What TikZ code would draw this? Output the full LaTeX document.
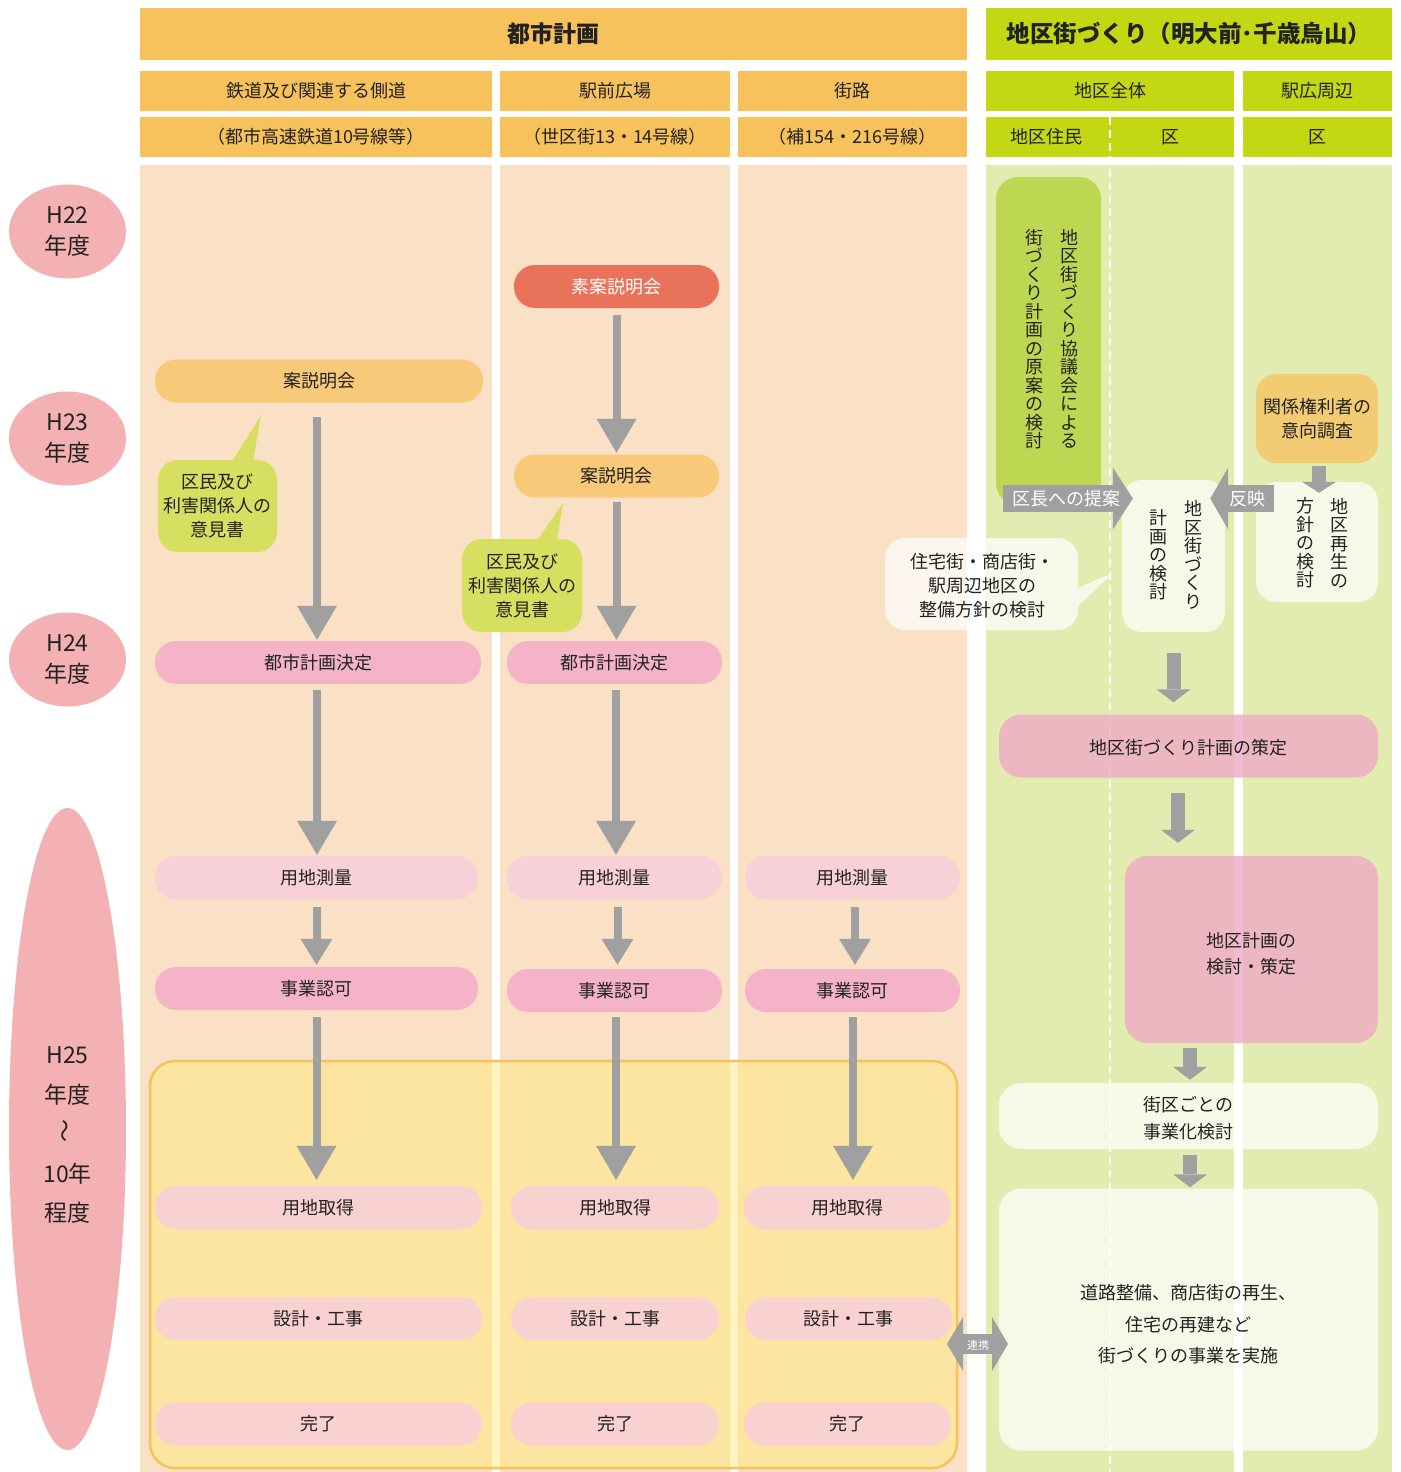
\documentclass[tikz,border=0pt]{standalone}
\usepackage{fontspec}
\setmainfont{Noto Sans CJK JP}
\usetikzlibrary{arrows.meta,shapes.geometric}
\definecolor{hdr}{HTML}{F7C15C}
\definecolor{lime}{HTML}{C3D812}
\definecolor{beige}{HTML}{FAE0C4}
\definecolor{greenbg}{HTML}{E2EBB0}
\definecolor{orpill}{HTML}{F9C97A}
\definecolor{redpill}{HTML}{E8735A}
\definecolor{pinkA}{HTML}{F4B3C7}
\definecolor{pinkL}{HTML}{F8D0D8}
\definecolor{pinkY}{HTML}{F9D1D0}
\definecolor{limecall}{HTML}{D6DF5F}
\definecolor{greenbox}{HTML}{BED752}
\definecolor{orbox}{HTML}{F3CB72}
\definecolor{yearpink}{HTML}{F3B1B3}
\definecolor{agray}{HTML}{A0A0A0}
\definecolor{ylw}{RGB}{255,232,128}
\definecolor{pinkR}{RGB}{240,171,199}
\definecolor{txt}{HTML}{222222}
\newcommand{\fsz}[2]{\fontsize{#1}{#2}\selectfont}
\begin{document}
\begin{tikzpicture}[x=1pt,y=-1pt,
  every node/.style={inner sep=0pt, text=txt},
  cell/.style={minimum height=40pt, font=\fsz{18}{22}},
  pill/.style={rounded corners=21pt, minimum height=43pt, font=\fsz{18}{22}},
  rbox/.style={rounded corners=20pt, align=center, font=\fsz{18}{24}},
  vtxt/.style={align=center, font=\fsz{18}{18.5}},
  yearnode/.style={ellipse, fill=yearpink, minimum width=117pt, align=center, font=\fsz{23}{31}},
  garrow/.style={draw=agray, line width=8pt, -{Triangle[width=40pt,length=34pt,line width=0pt]}},
  sgarrow/.style={draw=agray, line width=8pt, -{Triangle[width=32pt,length=26pt,line width=0pt]}},
  fatarrow/.style={draw=agray, line width=14pt, -{Triangle[width=34pt,length=13pt,line width=0pt]}},
  blockarrow/.style={draw=agray, line width=27pt, -{Triangle[width=62pt,length=20pt,line width=0pt]}},
  soft/.style={fill=white, fill opacity=0.7, text opacity=1},
  pinksoft/.style={fill=pinkR, fill opacity=0.8, text opacity=1},
  wtxt/.style={text=white, font=\fsz{18}{22}}
]
\useasboundingbox (0,0) rectangle (1400,1472);
\fill[white] (0,0) rectangle (1400,1472);

% column backgrounds
\fill[beige] (140,165) rectangle (492,1472);
\fill[beige] (500,165) rectangle (730,1472);
\fill[beige] (738,165) rectangle (967,1472);
\fill[greenbg] (986,165) rectangle (1234,1472);
\fill[greenbg] (1243,165) rectangle (1392,1472);

% headers
\node[fill=hdr, minimum width=827pt, minimum height=52pt, font=\fsz{23}{26}\bfseries] (h1) at (553.5,34) {都市計画};
\node[fill=lime, minimum width=406pt, minimum height=52pt, font=\fsz{23.5}{26}\bfseries] (h2) at (1189,34) {地区街づくり（明大前･千歳烏山）};
\node[cell, fill=hdr, minimum width=352pt] (h11) at (316,91) {鉄道及び関連する側道};
\node[cell, fill=hdr, minimum width=230pt] (h12) at (615,91) {駅前広場};
\node[cell, fill=hdr, minimum width=229pt] (h13) at (852.5,91) {街路};
\node[cell, fill=lime, minimum width=248pt] (h14) at (1110,91) {地区全体};
\node[cell, fill=lime, minimum width=149pt] (h15) at (1317.5,91) {駅広周辺};
\node[cell, fill=hdr, minimum width=352pt] (h21) at (316,137) {（都市高速鉄道10号線等）};
\node[cell, fill=hdr, minimum width=230pt] (h22) at (615,137) {（世区街13・14号線）};
\node[cell, fill=hdr, minimum width=229pt] (h23) at (852.5,137) {（補154・216号線）};
\fill[lime] (986,117) rectangle (1234,157);
\node[font=\fsz{18}{22}] (h24a) at (1046,137) {地区住民};
\node[font=\fsz{18}{22}] (h24b) at (1170,137) {区};
\node[cell, fill=lime, minimum width=149pt] (h25) at (1317.5,137) {区};

% dashed divider
\draw[white, line width=2.5pt, dash pattern=on 8pt off 5pt] (1110,117) -- (1110,1472);

% yellow box
\draw[draw=hdr, line width=2.5pt, fill=ylw, fill opacity=0.5, rounded corners=25pt] (150,1061) rectangle (957,1468);

% years
\node[yearnode, minimum height=94pt] (y22) at (67.5,231.5) {H22\\年度};
\node[yearnode, minimum height=94pt] (y23) at (67.5,438.5) {H23\\年度};
\node[yearnode, minimum height=94pt] (y24) at (67.5,659.5) {H24\\年度};
\node[yearnode, minimum height=642pt] (y25) at (67.5,1129) {};
\node[align=center, font=\fsz{23}{39.5}] (y25t) at (67.5,1135) {H25\\年度\\\rotatebox{90}{～}\\10年\\程度};

% column 1
\node[pill, fill=orpill, minimum width=328pt] (a1) at (319,381) {案説明会};
\node[pill, fill=pinkA, minimum width=326pt] (a2) at (318,662.5) {都市計画決定};
\node[pill, fill=pinkL, minimum width=323pt] (a3) at (316.5,877.5) {用地測量};
\node[pill, fill=pinkA, minimum width=323pt] (a4) at (316.5,988.5) {事業認可};
\node[pill, fill=pinkY, minimum width=327pt] (a5) at (318.5,1207.5) {用地取得};
\node[pill, fill=pinkY, minimum width=327pt] (a6) at (318.5,1318.5) {設計・工事};
\node[pill, fill=pinkY, minimum width=327pt] (a7) at (318.5,1424) {完了};

% column 2
\node[pill, fill=redpill, minimum width=205pt, text=white] (b0) at (616.5,286.5) {素案説明会};
\node[pill, fill=orpill, minimum width=205pt] (b1) at (616.5,476) {案説明会};
\node[pill, fill=pinkA, minimum width=215pt] (b2) at (614.5,662.5) {都市計画決定};
\node[pill, fill=pinkL, minimum width=215pt] (b3) at (614.5,877.5) {用地測量};
\node[pill, fill=pinkA, minimum width=215pt] (b4) at (614.5,990.5) {事業認可};
\node[pill, fill=pinkY, minimum width=208pt] (b5) at (615,1207.5) {用地取得};
\node[pill, fill=pinkY, minimum width=208pt] (b6) at (615,1318.5) {設計・工事};
\node[pill, fill=pinkY, minimum width=208pt] (b7) at (615,1424) {完了};

% column 3
\node[pill, fill=pinkL, minimum width=215pt] (c3) at (852.5,877.5) {用地測量};
\node[pill, fill=pinkA, minimum width=215pt] (c4) at (852.5,990.5) {事業認可};
\node[pill, fill=pinkY, minimum width=207pt] (c5) at (847.5,1207.5) {用地取得};
\node[pill, fill=pinkY, minimum width=207pt] (c6) at (848.5,1318.5) {設計・工事};
\node[pill, fill=pinkY, minimum width=207pt] (c7) at (847.5,1424) {完了};

% column arrows
\draw[garrow, shorten <=14.5pt, shorten >=1pt] ([xshift=-2pt]a1.south) -- ([xshift=-2pt]a1.south |- a2.north);
\draw[garrow, shorten <=6pt, shorten >=1pt] ([xshift=-1pt]a2.south) -- ([xshift=-1pt]a2.south |- a3.north);
\draw[sgarrow, shorten <=8pt, shorten >=2pt] (a3.south) -- (a3.south |- a4.north);
\draw[garrow, shorten <=7pt, shorten >=6pt] (a4.south) -- (a4.south |- a5.north);

\draw[garrow, shorten <=7pt, shorten >=1.5pt] (b0.south) -- (b0.south |- b1.north);
\draw[garrow, shorten <=4.5pt, shorten >=1pt] (b1.south) -- (b1.south |- b2.north);
\draw[garrow, shorten <=6pt, shorten >=1pt] ([xshift=1.5pt]b2.south) -- ([xshift=1.5pt]b2.south |- b3.north);
\draw[sgarrow, shorten <=8pt, shorten >=4pt] ([xshift=3pt]b3.south) -- ([xshift=3pt]b3.south |- b4.north);
\draw[garrow, shorten <=5pt, shorten >=6pt] ([xshift=1.5pt]b4.south) -- ([xshift=1.5pt]b4.south |- b5.north);

\draw[sgarrow, shorten <=8pt, shorten >=4pt] ([xshift=2.5pt]c3.south) -- ([xshift=2.5pt]c3.south |- c4.north);
\draw[garrow, shorten <=5pt, shorten >=6pt] ([xshift=0.5pt]c4.south) -- ([xshift=0.5pt]c4.south |- c5.north);

% callouts (left)
\fill[limecall] (232,462) -- (261,415) -- (253,462) -- cycle;
\node[rbox, fill=limecall, minimum width=119pt, minimum height=92pt] (k1) at (217.5,506) {区民及び\\利害関係人の\\意見書};
\fill[limecall] (537,541) -- (563,503) -- (557,541) -- cycle;
\node[rbox, fill=limecall, minimum width=120pt, minimum height=93pt] (k2) at (522,585.5) {区民及び\\利害関係人の\\意見書};

% right side
\node[fill=greenbox, rounded corners=22pt, minimum width=105pt, minimum height=328pt] (gbox) at (1048.5,341) {};
\node[vtxt] (gt1) at (1069,339) {地\\区\\街\\づ\\く\\り\\協\\議\\会\\に\\よ\\る};
\node[vtxt] (gt2) at (1034,339) {街\\づ\\く\\り\\計\\画\\の\\原\\案\\の\\検\\討};

\node[soft, rounded corners=20pt, minimum width=103pt, minimum height=152pt] (kb) at (1173.5,556) {};
\node[vtxt] (kbt1) at (1193,555) {地\\区\\街\\づ\\く\\り};
\node[vtxt] (kbt2) at (1158,555) {計\\画\\の\\検\\討};

\node[rbox, fill=orbox, minimum width=122pt, minimum height=89pt] (kk) at (1317,418.5) {関係権利者の\\意向調査};
\node[soft, rounded corners=20pt, minimum width=122pt, minimum height=120pt] (ks) at (1317,542) {};
\node[vtxt] (kst1) at (1339,543) {地\\区\\再\\生\\の};
\node[vtxt] (kst2) at (1305,543) {方\\針\\の\\検\\討};
\draw[fatarrow, -{Triangle[width=34pt,length=11pt,line width=0pt]}, shorten <=3pt, shorten >=-11pt] ([xshift=2pt]kk.south) -- ([xshift=2pt]kk.south |- ks.north);

% block arrows
\coordinate (tpS) at (1003,498.5);
\draw[blockarrow, shorten >=-11pt] (tpS) -- (kb.west |- tpS);
\node[wtxt] (tp) at (1066,498.5) {区長への提案};
\coordinate (hnS) at (1274,498.5);
\draw[blockarrow, -{Triangle[width=62pt,length=18pt,line width=0pt]}, shorten >=-15pt] (hnS) -- (kb.east |- hnS);
\node[wtxt] (hn) at (1247,498.5) {反映};

% callout 3
\fill[white, fill opacity=0.72] (1078,588) -- (1113,573) -- (1078,606) -- cycle;
\node[rbox, fill=white, fill opacity=0.72, text opacity=1, minimum width=193pt, minimum height=92pt] (jk) at (981.5,584) {};
\node[align=center, font=\fsz{18}{24}] (jkt) at (982,586) {住宅街・商店街・\\駅周辺地区の\\整備方針の検討};

% lower right flow
\node[pinksoft, rounded corners=22pt, minimum width=379pt, minimum height=63pt, font=\fsz{18}{22}] (sak) at (1188.5,746) {};
\node[font=\fsz{18}{22}] (sakt) at (1188.5,748) {地区街づくり計画の策定};
\node[pinksoft, rounded corners=22pt, minimum width=253pt, minimum height=187pt] (dk) at (1251.5,949.5) {};
\node[align=center, font=\fsz{18}{26}] (dkt) at (1251.5,953.5) {地区計画の\\検討・策定};
\node[soft, rounded corners=22pt, minimum width=379pt, minimum height=66pt] (gk) at (1188.5,1116) {};
\node[align=center, font=\fsz{18}{27}] (gkt) at (1188.5,1118) {街区ごとの\\事業化検討};
\node[soft, rounded corners=22pt, minimum width=379pt, minimum height=262pt] (jj) at (1188.5,1319.5) {};
\node[align=center, font=\fsz{18}{31.5}] (jjt) at (1188.5,1324.5) {道路整備、商店街の再生、\\住宅の再建など\\街づくりの事業を実施};

\draw[fatarrow, shorten <=21pt, shorten >=12pt] (kb.south) -- (kb.south |- sak.north);
\draw[fatarrow, shorten <=15pt, shorten >=13pt] ([xshift=-10.5pt]sak.south) -- ([xshift=-10.5pt]sak.south |- dk.north);
\draw[fatarrow, shorten <=5pt, shorten >=3pt] ([xshift=-61.5pt]dk.south) -- ([xshift=-61.5pt]dk.south |- gk.north);
\draw[fatarrow, shorten <=6pt, shorten >=1pt] ([xshift=1.5pt]gk.south) -- ([xshift=1.5pt]gk.south |- jj.north);

% link arrow
\coordinate (lkL) at (947,1344);
\coordinate (lkR) at (1008,1344);
\draw[draw=agray, line width=20pt, {Triangle[width=54pt,length=16pt,line width=0pt]}-{Triangle[width=54pt,length=16pt,line width=0pt]}] (lkL) -- (lkR);
\node[text=white, font=\fsz{11}{13}] (lk) at (978,1345) {連携};
\end{tikzpicture}
\end{document}
